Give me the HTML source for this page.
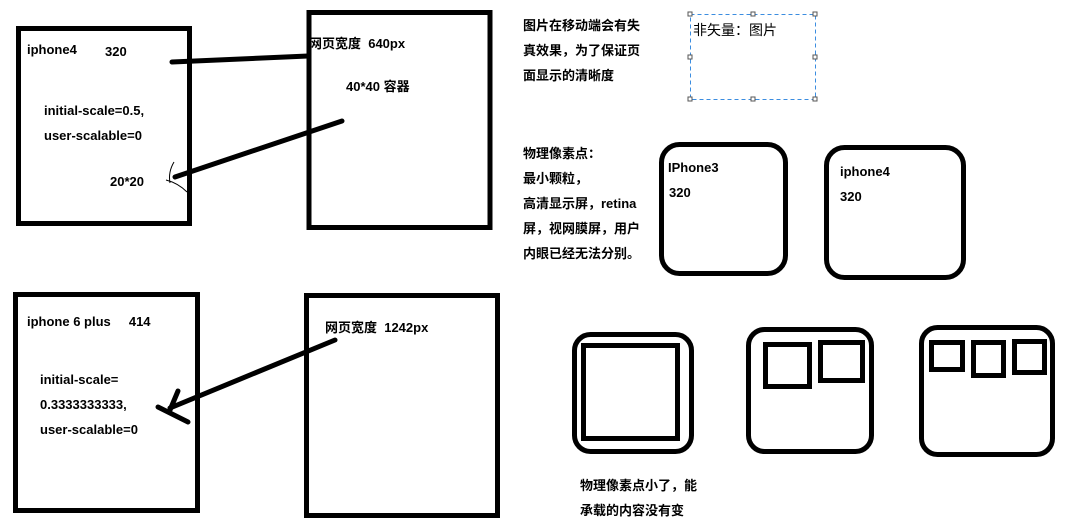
<!DOCTYPE html>
<html><head><meta charset="utf-8"><style>
body{margin:0;background:#fff;}
svg{display:block}
text{font-family:"Liberation Sans","Noto Sans CJK SC",sans-serif;font-size:13px;font-weight:bold;fill:#000}
</style></head><body>
<svg width="1072" height="524" viewBox="0 0 1072 524" xmlns="http://www.w3.org/2000/svg">
<g fill="none" stroke="#000" stroke-width="5">
<rect x="18.5" y="28.5" width="171" height="195"/>
<rect x="309" y="12.5" width="181" height="215"/>
<rect x="15.5" y="294.5" width="182" height="216"/>
<rect x="306.5" y="295.5" width="191" height="220"/>
<rect x="661.5" y="144.5" width="124" height="129" rx="18"/>
<rect x="826.5" y="147.5" width="137" height="130" rx="18"/>
<rect x="574.5" y="334.5" width="117" height="117" rx="16"/>
<rect x="583.5" y="345.5" width="94" height="93"/>
<rect x="748.5" y="329.5" width="123" height="122" rx="16"/>
<rect x="765.5" y="344.5" width="44" height="42"/>
<rect x="820.5" y="342.5" width="42" height="38"/>
<rect x="921.5" y="327.5" width="131" height="127" rx="16"/>
<rect x="931.5" y="342.5" width="31" height="27"/>
<rect x="973.5" y="342.5" width="30" height="33"/>
<rect x="1014.5" y="341.5" width="30" height="31"/>
</g>
<g stroke="#000" stroke-width="5" stroke-linecap="round" fill="none">
<line x1="172" y1="62" x2="308" y2="56"/>
<line x1="175" y1="177" x2="342" y2="121"/>
<line x1="335" y1="340" x2="170" y2="408"/>
<line x1="178" y1="391" x2="170" y2="410"/>
<line x1="158" y1="407" x2="188" y2="422"/>
</g>
<path d="M174 162 Q168 172 170 183 M166 180 Q178 183 187 192" stroke="#000" stroke-width="1" fill="none"/>
<rect x="690.5" y="14.5" width="125" height="85" fill="none" stroke="#3b8de0" stroke-dasharray="4,3"/>
<g fill="#fff" stroke="#555" stroke-width="1">
<rect x="688" y="12" width="4" height="4"/><rect x="751" y="12" width="4" height="4"/><rect x="813" y="12" width="4" height="4"/>
<rect x="688" y="55" width="4" height="4"/><rect x="813" y="55" width="4" height="4"/>
<rect x="688" y="97" width="4" height="4"/><rect x="751" y="97" width="4" height="4"/><rect x="813" y="97" width="4" height="4"/>
</g>
<text x="27" y="54">iphone4</text><text x="105" y="56">320</text>
<text x="44" y="115">initial-scale=0.5,</text>
<text x="44" y="140">user-scalable=0</text>
<text x="110" y="186">20*20</text>
<text x="309" y="48">网页宽度&#160; 640px</text>
<text x="346" y="91">40*40 容器</text>
<text x="27" y="326">iphone 6 plus&#160;&#160;&#160;&#160; 414</text>
<text x="40" y="384">initial-scale=</text>
<text x="40" y="409">0.3333333333,</text>
<text x="40" y="434">user-scalable=0</text>
<text x="325" y="332">网页宽度&#160; 1242px</text>
<text x="523" y="30">图片在移动端会有失</text>
<text x="523" y="55">真效果，为了保证页</text>
<text x="523" y="80">面显示的清晰度</text>
<text x="693" y="35" style="font-weight:normal;font-size:14px">非矢量：图片</text>
<text x="523" y="158">物理像素点：</text>
<text x="523" y="183">最小颗粒，</text>
<text x="523" y="208">高清显示屏，retina</text>
<text x="523" y="233">屏，视网膜屏，用户</text>
<text x="523" y="258">内眼已经无法分别。</text>
<text x="668" y="172">IPhone3</text><text x="669" y="197">320</text>
<text x="840" y="176">iphone4</text><text x="840" y="201">320</text>
<text x="580" y="490">物理像素点小了，能</text>
<text x="580" y="515">承载的内容没有变</text>
</svg>
</body></html>
